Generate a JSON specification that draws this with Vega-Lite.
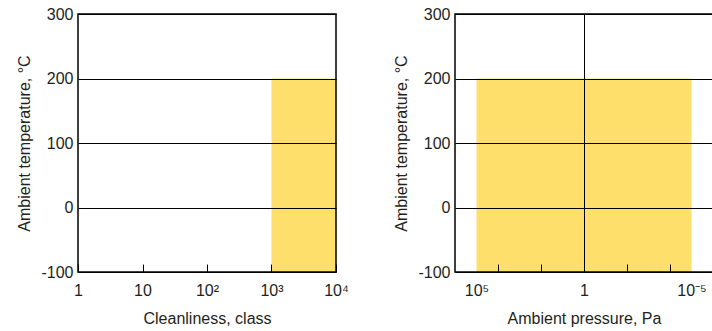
{
  "$schema": "https://vega.github.io/schema/vega-lite/v6.json",
  "background": "white",
  "padding": {"left": 16, "top": 5, "right": 0, "bottom": 0},
  "spacing": 119,
  "bounds": "flush",
  "config": {
    "font": "Liberation Sans",
    "view": {"stroke": "#000000", "strokeWidth": 1.5},
    "style": {"cell": {"strokeForeground": true}},
    "axis": {
      "labelFont": "Liberation Sans",
      "titleFont": "Liberation Sans",
      "labelFontSize": 16,
      "titleFontSize": 16,
      "titleFontWeight": "normal",
      "labelColor": "#231f20",
      "titleColor": "#231f20",
      "domain": false,
      "labelFlush": false,
      "labelOverlap": false
    }
  },
  "hconcat": [
    {
      "width": 258,
      "height": 258,
      "data": {"values": [{"x": 1000, "x2": 10000, "y": -100, "y2": 200}]},
      "mark": {"type": "rect", "color": "#FFDF6B"},
      "encoding": {
        "x": {
          "field": "x",
          "type": "quantitative",
          "scale": {"type": "log", "domain": [1, 10000], "nice": false},
          "axis": {
            "values": [1, 10, 100, 1000, 10000],
            "grid": false,
            "tickSize": -8,
            "tickColor": "#000000",
            "tickWidth": 1,
            "labelPadding": 18,
            "labelExpr": "datum.value == 1 ? '1' : datum.value == 10 ? '10' : datum.value == 100 ? '10²' : datum.value == 1000 ? '10³' : '10⁴'",
            "title": "Cleanliness, class",
            "titlePadding": 12,
            "zindex": 1
          }
        },
        "x2": {"field": "x2"},
        "y": {
          "field": "y",
          "type": "quantitative",
          "scale": {"domain": [-100, 300], "nice": false, "zero": false},
          "axis": {
            "values": [-100, 0, 100, 200, 300],
            "grid": true,
            "gridColor": "#000000",
            "gridWidth": 1,
            "gridOpacity": 1,
            "ticks": false,
            "labelPadding": 5,
            "labelExpr": "replace(datum.label, '−', '-')",
            "title": "Ambient temperature, °C",
            "titlePadding": 8,
            "zindex": 1
          }
        },
        "y2": {"field": "y2"}
      }
    },
    {
      "width": 258,
      "height": 258,
      "data": {"values": [{"x": 100000, "x2": 0.00001, "y": -100, "y2": 200}]},
      "mark": {"type": "rect", "color": "#FFDF6B"},
      "encoding": {
        "x": {
          "field": "x",
          "type": "quantitative",
          "scale": {"type": "log", "domain": [0.000001, 1000000], "reverse": true, "nice": false},
          "axis": {
            "values": [100000, 10000, 100, 1, 0.01, 0.0001, 0.00001],
            "grid": true,
            "gridColor": "#000000",
            "gridWidth": 1,
            "gridOpacity": {"condition": {"test": "datum.value == 1", "value": 1}, "value": 0},
            "tickSize": -8,
            "tickColor": "#000000",
            "tickWidth": 1,
            "tickOpacity": {"condition": {"test": "datum.value > 50000 || datum.value < 0.00002", "value": 0}, "value": 1},
            "labelPadding": 18,
            "labelExpr": "datum.value > 50000 ? '10⁵' : datum.value == 1 ? '1' : datum.value < 0.00002 ? '10⁻⁵' : ''",
            "title": "Ambient pressure, Pa",
            "titlePadding": 12,
            "zindex": 1
          }
        },
        "x2": {"field": "x2"},
        "y": {
          "field": "y",
          "type": "quantitative",
          "scale": {"domain": [-100, 300], "nice": false, "zero": false},
          "axis": {
            "values": [-100, 0, 100, 200, 300],
            "grid": true,
            "gridColor": "#000000",
            "gridWidth": 1,
            "gridOpacity": 1,
            "ticks": false,
            "labelPadding": 5,
            "labelExpr": "replace(datum.label, '−', '-')",
            "title": "Ambient temperature, °C",
            "titlePadding": 8,
            "zindex": 1
          }
        },
        "y2": {"field": "y2"}
      }
    }
  ]
}
